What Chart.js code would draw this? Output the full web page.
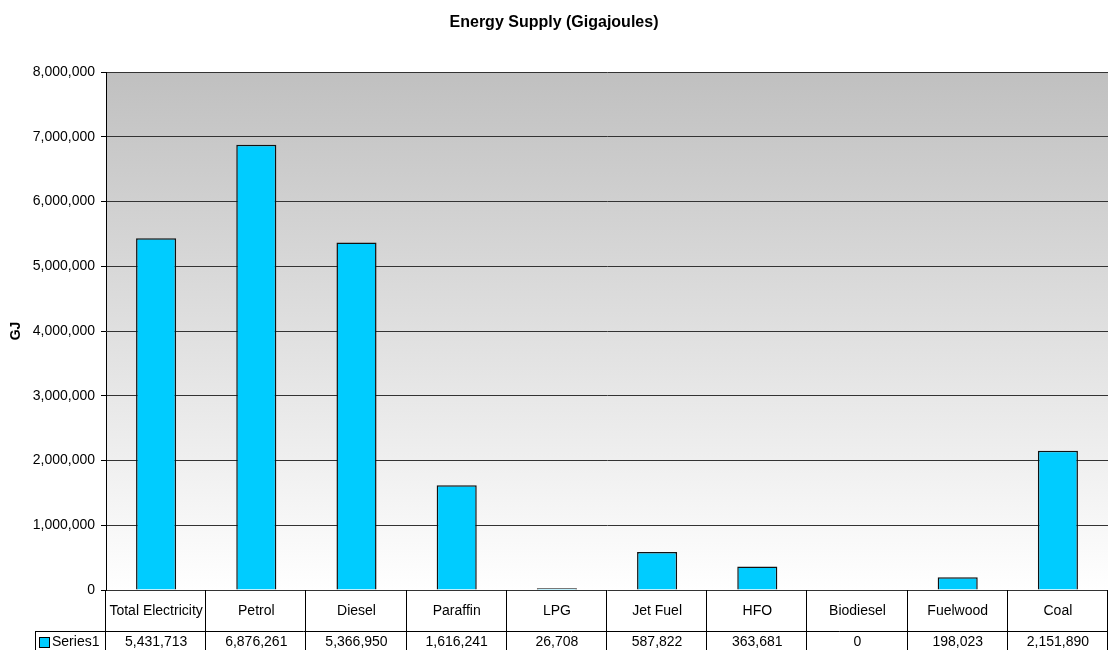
<!DOCTYPE html>
<html>
<head>
<meta charset="utf-8">
<script src="https://cdn.jsdelivr.net/npm/chart.js@4"></script>
<style>
  body { margin: 0; background: #fff; }
  #wrap { width: 1109px; height: 650px; }
</style>
</head>
<body>
<div id="wrap"><canvas id="energyChart" width="1109" height="650"></canvas></div>
<script>
// 데이터
const categories = ['Total Electricity', 'Petrol', 'Diesel', 'Paraffin', 'LPG', 'Jet Fuel', 'HFO', 'Biodiesel', 'Fuelwood', 'Coal'];
const series1 = [5431713, 6876261, 5366950, 1616241, 26708, 587822, 363681, 0, 198023, 2151890];
const seriesName = 'Series1';
const yMax = 8000000;
const yStep = 1000000;

const FONT = '"Liberation Sans", Arial, sans-serif';
const fmt = v => v.toLocaleString('en-US');

// 배경 그라데이션 + 아래 데이터 테이블
const tablePlugin = {
    id: 'dataTable',
    beforeDraw(chart) {
        const { ctx, chartArea: a } = chart;
        const g = ctx.createLinearGradient(0, a.top, 0, a.bottom);
        g.addColorStop(0, '#c0c0c0');
        g.addColorStop(1, '#ffffff');
        ctx.save();
        ctx.fillStyle = g;
        ctx.fillRect(a.left, a.top, a.right - a.left, a.bottom - a.top);
        ctx.restore();
    },
    afterDraw(chart) {
        const { ctx, chartArea: a } = chart;
        const x = chart.scales.x;
        const n = categories.length;
        const w = (a.right - a.left) / n;
        const row1 = a.bottom + 41;
        const row2 = row1 + 26;
        const legendLeft = 35;
        ctx.save();
        ctx.strokeStyle = '#000';
        ctx.lineWidth = 1;
        ctx.beginPath();
        for (let i = 0; i <= n; i++) {
            const px = Math.round(a.left + i * w) - 0.5;
            ctx.moveTo(px, a.bottom);
            ctx.lineTo(px, row2);
        }
        ctx.moveTo(legendLeft + 0.5, row1);
        ctx.lineTo(legendLeft + 0.5, row2);
        ctx.moveTo(legendLeft, row1 + 0.5);
        ctx.lineTo(a.right, row1 + 0.5);
        ctx.stroke();

        ctx.fillStyle = '#000';
        ctx.font = '14px ' + FONT;
        ctx.textAlign = 'center';
        ctx.textBaseline = 'middle';
        categories.forEach((c, i) => {
            const cx = x.getPixelForValue(i);
            ctx.fillText(c, cx, a.bottom + 21);
            ctx.fillText(fmt(series1[i]), cx, row1 + 11);
        });

        // 범례 키
        ctx.fillStyle = '#00ccff';
        ctx.fillRect(legendLeft + 4, row1 + 6, 10, 10);
        ctx.strokeRect(legendLeft + 4.5, row1 + 6.5, 10, 10);
        ctx.fillStyle = '#000';
        ctx.textAlign = 'left';
        ctx.fillText(seriesName, legendLeft + 17, row1 + 11);
        ctx.restore();
    }
};

new Chart(document.getElementById('energyChart').getContext('2d'), {
    type: 'bar',
    data: {
        labels: categories,
        datasets: [{
            label: seriesName,
            data: series1,
            backgroundColor: '#00ccff',
            borderColor: '#111',
            borderWidth: 1.5,
            categoryPercentage: 1,
            barPercentage: 0.4
        }]
    },
    options: {
        responsive: false,
        animation: false,
        layout: { padding: { left: 0, right: 1, top: 0, bottom: 60 } },
        plugins: {
            legend: { display: false },
            tooltip: { enabled: false },
            title: {
                display: true,
                text: 'Energy Supply (Gigajoules)',
                color: '#000',
                font: { family: FONT, size: 16, weight: 'bold' },
                padding: { top: 13, bottom: 72 - 13 - 16 * 1.2 }
            }
        },
        scales: {
            x: { display: false },
            y: {
                min: 0,
                max: yMax,
                afterFit: s => { s.width = 106; },
                ticks: {
                    stepSize: yStep,
                    color: '#000',
                    font: { family: FONT, size: 14 },
                    padding: 6,
                    callback: v => fmt(v)
                },
                grid: { color: '#333', tickLength: 5, tickColor: '#000' },
                border: { color: '#000' }
            }
        }
    },
    plugins: [tablePlugin, {
        id: 'yTitle',
        afterDraw(chart) {
            const { ctx, chartArea: a } = chart;
            ctx.save();
            ctx.translate(16, (a.top + a.bottom) / 2);
            ctx.rotate(-Math.PI / 2);
            ctx.font = 'bold 14px ' + FONT;
            ctx.fillStyle = '#000';
            ctx.textAlign = 'center';
            ctx.textBaseline = 'middle';
            ctx.fillText('GJ', 0, 0);
            ctx.restore();
        }
    }]
});
</script>
</body>
</html>
